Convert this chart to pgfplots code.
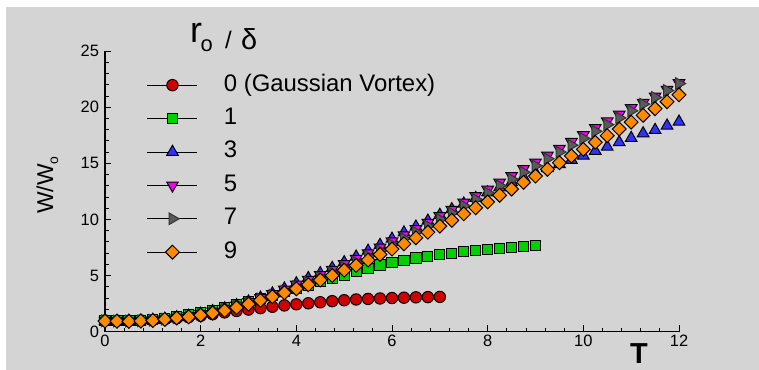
\documentclass[border=0pt]{standalone}
\usepackage{fontspec}
\setmainfont{Liberation Sans}
\usepackage{pgfplots}
\pgfplotsset{compat=1.18}
\usepackage{pgfplotstable}
\definecolor{bg}{RGB}{212,212,212}
\definecolor{cred}{RGB}{208,0,0}
\definecolor{cgreen}{RGB}{0,208,0}
\definecolor{cblue}{RGB}{50,50,255}
\definecolor{cmag}{RGB}{240,0,240}
\definecolor{cgray}{RGB}{90,90,90}
\definecolor{corange}{RGB}{255,138,0}

\pgfplotstableread{
T R
0 1.0
0.25 0.98
0.5 0.98
0.75 1.0
1.0 1.04
1.25 1.1
1.5 1.2
1.75 1.3
2.0 1.42
2.25 1.56
2.5 1.72
2.75 1.85
3.0 1.97
3.25 2.1
3.5 2.22
3.75 2.34
4.0 2.44
4.25 2.53
4.5 2.62
4.75 2.72
5.0 2.8
5.25 2.87
5.5 2.92
5.75 2.96
6.0 3.0
6.25 3.03
6.5 3.06
6.75 3.08
7.0 3.1
}\dataR

\pgfplotstableread{
T G
0 1.0
0.25 0.98
0.5 0.98
0.75 1.02
1.0 1.08
1.25 1.18
1.5 1.32
1.75 1.48
2.0 1.68
2.25 1.9
2.5 2.14
2.75 2.4
3.0 2.68
3.25 2.96
3.5 3.25
3.75 3.55
4.0 3.85
4.25 4.15
4.5 4.45
4.75 4.75
5.0 5.05
5.25 5.34
5.5 5.64
5.75 5.94
6.0 6.17
6.25 6.36
6.5 6.56
6.75 6.71
7.0 6.86
7.25 7.0
7.5 7.12
7.75 7.25
8.0 7.34
8.25 7.42
8.5 7.51
8.75 7.58
9.0 7.66
}\dataG

\pgfplotstableread{
T B M K O
0 0.97 0.97 0.97 0.95
0.25 0.96 0.95 0.95 0.93
0.5 0.96 0.94 0.94 0.92
0.75 0.99 0.97 0.97 0.95
1.0 1.05 1.03 1.02 1.0
1.25 1.14 1.12 1.12 1.1
1.5 1.27 1.25 1.24 1.22
1.75 1.42 1.4 1.38 1.32
2.0 1.6 1.58 1.55 1.47
2.25 1.82 1.8 1.76 1.66
2.5 2.07 2.05 2.0 1.88
2.75 2.36 2.33 2.28 2.15
3.0 2.68 2.65 2.58 2.45
3.25 3.02 3.0 2.92 2.78
3.5 3.4 3.35 3.25 3.12
3.75 3.83 3.75 3.62 3.47
4.0 4.3 4.2 4.0 3.82
4.25 4.77 4.62 4.4 4.18
4.5 5.2 5.06 4.82 4.6
4.75 5.67 5.52 5.25 5.0
5.0 6.18 6.03 5.73 5.48
5.25 6.68 6.5 6.2 5.9
5.5 7.2 7.0 6.7 6.38
5.75 7.72 7.5 7.2 6.88
6.0 8.27 8.05 7.75 7.36
6.25 8.83 8.6 8.3 7.82
6.5 9.35 9.15 8.85 8.36
6.75 9.88 9.7 9.4 8.86
7.0 10.4 10.3 10.0 9.4
7.25 10.9 10.87 10.57 9.92
7.5 11.4 11.5 11.2 10.5
7.75 11.9 12.09 11.79 11.04
8.0 12.4 12.66 12.36 11.56
8.25 12.85 13.3 13.0 12.15
8.5 13.3 13.88 13.58 12.7
8.75 13.75 14.5 14.2 13.3
9.0 14.15 15.08 14.78 13.86
9.25 14.55 15.7 15.4 14.46
9.5 14.92 16.3 16.0 15.05
9.75 15.3 16.91 16.61 15.65
10.0 15.67 17.51 17.21 16.24
10.25 16.1 18.15 17.85 16.87
10.5 16.47 18.74 18.44 17.46
10.75 16.87 19.34 19.04 18.05
11.0 17.25 19.92 19.67 18.67
11.25 17.66 20.4 20.27 19.27
11.5 17.96 20.96 20.86 19.86
11.75 18.35 21.56 21.48 20.48
12.0 18.7 22.15 22.1 21.1
}\dataBMKO

\begin{document}
\begin{tikzpicture}
\useasboundingbox (0bp,0bp) rectangle (759bp,370bp);
\fill[white] (0bp,0bp) rectangle (759bp,370bp);
\fill[bg] (6bp,0bp) rectangle (759bp,363bp);
\begin{axis}[
  at={(105bp,38.3bp)}, anchor=south west,
  scale only axis, width=574bp, height=280.7bp,
  xmin=0, xmax=12, ymin=0, ymax=25,
  axis x line*=bottom, axis y line*=left,
  axis line style={line width=1.2bp, black, -},
  xtick={0,2,...,12}, ytick={0,5,...,25},
  minor x tick num=4, minor y tick num=4,
  xtick pos=bottom, ytick pos=left,
  tick align=inside, major tick length=6.5bp, minor tick length=3.5bp,
  every tick/.style={black, line width=0.8bp},
  tick label style={font=\fontsize{16.5}{16.5}\selectfont},
  yticklabel style={xshift=-2.5bp},
  /pgf/number format/assume math mode=true,
  clip=false,
  legend cell align=left,
  legend style={
    at={(0.0732,0.9175)}, anchor=north west, draw=none, fill=none,
    inner sep=0pt, outer sep=0pt, row sep=11.4bp,
    nodes={inner sep=0pt, text height=17bp, text depth=5bp, font=\fontsize{24}{24}\selectfont},
    /tikz/every odd column/.append style={column sep=26bp},
  },
  legend image code/.code={
    \draw[black,line width=0.9bp] (0bp,0bp) -- (50bp,0bp);
    \draw[#1,mark repeat=2,mark phase=2] plot coordinates {(0bp,0bp) (25bp,0bp) (50bp,0bp)};
  },
]
\addplot[only marks, mark=*, mark size=5.7bp, mark options={fill=cred, draw=black, line width=1bp}] table[x=T,y=R] {\dataR};
\addlegendentry{0 (Gaussian Vortex)}
\addplot[only marks, mark=square*, mark size=5.1bp, mark options={fill=cgreen, draw=black, line width=1bp}] table[x=T,y=G] {\dataG};
\addlegendentry{1}
\addplot[only marks, mark=triangle*, mark size=6.7bp, mark options={fill=cblue, draw=black, line width=1bp}] table[x=T,y=B] {\dataBMKO};
\addlegendentry{3}
\addplot[only marks, mark=triangle*, mark size=6.7bp, mark options={rotate=180, fill=cmag, draw=black, line width=1bp}] table[x=T,y=M] {\dataBMKO};
\addlegendentry{5}
\addplot[only marks, mark=triangle*, mark size=6.7bp, mark options={rotate=-90, fill=cgray, draw=black!80, line width=1bp}] table[x=T,y=K] {\dataBMKO};
\addlegendentry{7}
\addplot[only marks, mark=square*, mark size=4.9bp, mark options={rotate=45, fill=corange, draw=black, line width=1bp}] table[x=T,y=O] {\dataBMKO};
\addlegendentry{9}
\end{axis}
\node[anchor=base west, inner sep=0pt, font=\fontsize{36}{36}\selectfont] at (190bp,327bp) {r};
\node[anchor=base west, inner sep=0pt, font=\fontsize{22}{22}\selectfont] at (200.5bp,318.5bp) {o};
\node[anchor=base west, inner sep=0pt, font=\fontsize{24}{24}\selectfont] at (225bp,321bp) {/};
\node[anchor=base west, inner sep=0pt, font=\fontsize{29}{29}\selectfont] at (241bp,320bp) {δ};
\node[anchor=base, inner sep=0pt, font=\bfseries\fontsize{29}{29}\selectfont] at (639bp,7bp) {T};
\node[rotate=90, anchor=base west, inner sep=0pt, font=\fontsize{23}{23}\selectfont] at (53bp,156bp) {W/W\raisebox{-5bp}{\fontsize{14}{14}\selectfont o}};
\end{tikzpicture}
\end{document}
